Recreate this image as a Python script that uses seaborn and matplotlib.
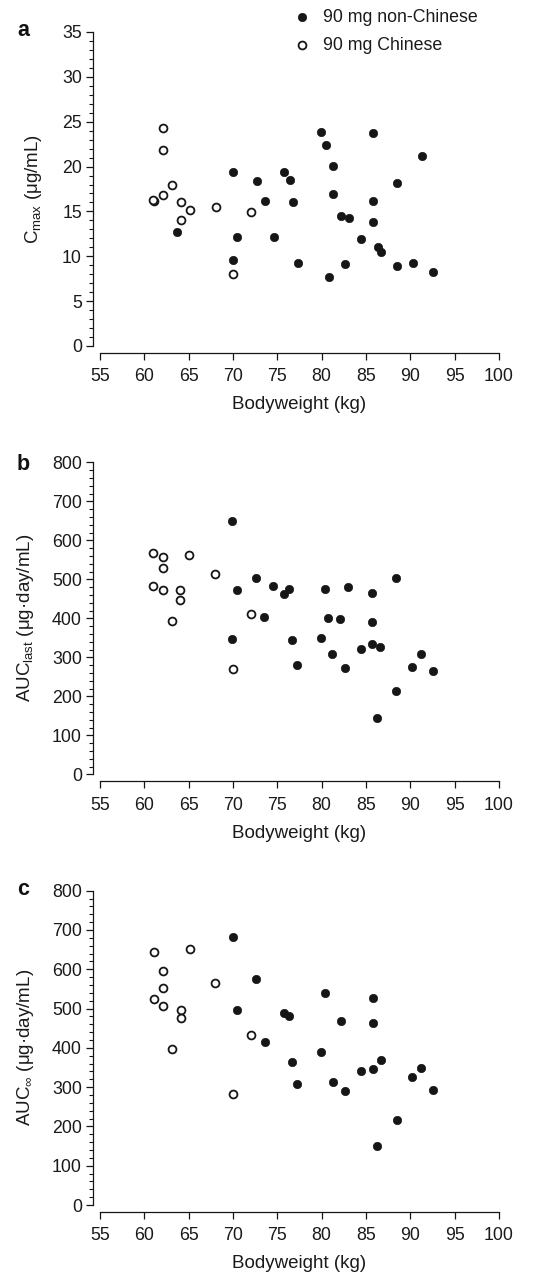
import matplotlib
matplotlib.use("Agg")
import matplotlib.pyplot as plt
import seaborn as sns
import pandas as pd
from matplotlib.ticker import MultipleLocator

# ---------------- data ----------------
groups = ["90 mg non-Chinese", "90 mg Chinese"]

# Panel a: Cmax (µg/mL)
a_wt_nc = [79.9, 85.8, 80.5, 91.3, 81.3, 70.0, 75.8, 76.4, 72.7, 88.5,
           73.6, 76.8, 81.3, 85.8, 82.2, 83.1, 85.8, 63.7, 70.5, 74.6,
           84.4, 86.3, 86.7, 70.0, 77.3, 82.6, 88.5, 90.3, 80.8, 92.6]
a_val_nc = [23.8, 23.7, 22.4, 21.2, 20.1, 19.4, 19.4, 18.5, 18.4, 18.2,
            16.2, 16.1, 16.9, 16.2, 14.5, 14.3, 13.8, 12.7, 12.1, 12.1,
            11.9, 11.0, 10.5, 9.6, 9.2, 9.1, 8.9, 9.2, 7.7, 8.2]
a_wt_c = [62.1, 62.1, 63.1, 62.1, 61.1, 61.0, 64.1, 65.1, 64.1, 68.1, 72.0, 70.0]
a_val_c = [24.3, 21.8, 17.9, 16.8, 16.2, 16.3, 16.1, 15.2, 14.1, 15.5, 14.9, 8.0]

# Panel b: AUClast (µg·day/mL)
b_wt_nc = [69.9, 72.6, 74.5, 75.8, 76.3, 70.4, 80.4, 83.0, 85.7, 88.4,
           73.5, 80.7, 82.1, 85.7, 69.9, 76.7, 79.9, 85.7, 86.6, 84.4,
           81.2, 91.2, 77.2, 82.6, 90.2, 92.5, 88.4, 86.2]
b_val_nc = [650, 503, 482, 462, 476, 472, 476, 480, 466, 503,
            404, 401, 399, 391, 347, 345, 350, 335, 326, 322,
            309, 308, 281, 273, 274, 264, 214, 144]
b_wt_c = [61.0, 62.1, 62.1, 65.0, 68.0, 61.0, 62.1, 64.0, 64.0, 63.1, 72.0, 70.0]
b_val_c = [567, 557, 530, 563, 513, 484, 472, 472, 446, 392, 411, 269]

# Panel c: AUC∞ (µg·day/mL)
c_wt_nc = [70.0, 72.6, 80.4, 85.8, 70.5, 75.8, 76.3, 82.2, 85.8, 73.6,
           79.9, 86.7, 76.7, 91.2, 85.8, 84.4, 90.2, 77.2, 81.3, 82.6,
           92.6, 88.5, 86.2]
c_val_nc = [681, 575, 539, 526, 496, 489, 482, 468, 464, 414,
            389, 369, 365, 348, 346, 342, 326, 309, 314, 291,
            292, 216, 149]
c_wt_c = [61.1, 65.1, 62.1, 62.1, 68.0, 61.1, 62.1, 64.1, 64.1, 63.1, 72.0, 70.0]
c_val_c = [643, 652, 595, 552, 564, 525, 507, 497, 475, 396, 433, 283]

x_ticks = list(range(55, 101, 5))
ylabels = [r"C$_{\mathrm{max}}$ (μg/mL)",
           r"AUC$_{\mathrm{last}}$ (μg·day/mL)",
           r"AUC$_{\mathrm{∞}}$ (μg·day/mL)"]
panel_letters = ["a", "b", "c"]

# ---------------- styling ----------------
sns.set_theme(style="ticks")
plt.rcParams["font.family"] = ["Liberation Sans", "DejaVu Sans"]
plt.rcParams["mathtext.fontset"] = "custom"
plt.rcParams["mathtext.rm"] = "Liberation Sans"
plt.rcParams["mathtext.it"] = "Liberation Sans:italic"
plt.rcParams["mathtext.bf"] = "Liberation Sans:bold"

INK = "#161616"
W, H = 549, 1283
fig = plt.figure(figsize=(W / 100, H / 100), dpi=100)

def frac_box(left, right, top, bottom):
    return [left / W, 1 - bottom / H, (right - left) / W, (bottom - top) / H]

axes = [fig.add_axes(frac_box(100, 499, 32, 346)),
        fig.add_axes(frac_box(100, 499, 462.3, 774.3)),
        fig.add_axes(frac_box(100, 499, 890.7, 1205))]

datasets = [
    (a_wt_nc, a_val_nc, a_wt_c, a_val_c, 35, 5, 1),
    (b_wt_nc, b_val_nc, b_wt_c, b_val_c, 800, 100, 20),
    (c_wt_nc, c_val_nc, c_wt_c, c_val_c, 800, 100, 20),
]
label_x = [-0.14, -0.16, -0.16]
letter_base = [36, 470, 895]

for i, (ax, (wn, vn, wc, vc, ymax, ymaj, ymin)) in enumerate(zip(axes, datasets)):
    df_nc = pd.DataFrame({"wt": wn, "val": vn, "group": groups[0]})
    df_c = pd.DataFrame({"wt": wc, "val": vc, "group": groups[1]})
    sns.scatterplot(data=df_nc, x="wt", y="val", ax=ax, s=36, color=INK,
                    edgecolor=INK, linewidth=0.5, label=groups[0], zorder=3)
    sns.scatterplot(data=df_c, x="wt", y="val", ax=ax, s=32, color="white",
                    edgecolor=INK, linewidth=1.3, label=groups[1], zorder=3)
    ax.set_xlim(55, 100)
    ax.set_ylim(0, ymax)
    ax.set_xticks(x_ticks)
    ax.yaxis.set_major_locator(MultipleLocator(ymaj))
    ax.yaxis.set_minor_locator(MultipleLocator(ymin))
    ax.tick_params(axis="both", which="major", direction="out", length=5,
                   width=0.9, color=INK, labelsize=12.8, labelcolor="#1a1a1a", pad=3)
    ax.tick_params(axis="y", which="minor", direction="out", length=3,
                   width=0.8, color=INK)
    ax.tick_params(axis="x", pad=6)
    ax.set_xlabel("Bodyweight (kg)", fontsize=13.5, color="#1a1a1a", labelpad=8)
    ax.set_ylabel(ylabels[i], fontsize=13.5, color="#1a1a1a")
    ax.yaxis.set_label_coords(label_x[i], 0.5)
    sns.despine(ax=ax, offset=5, trim=True)
    for sp in ("left", "bottom"):
        ax.spines[sp].set_linewidth(0.9)
        ax.spines[sp].set_color(INK)
    ax.set_facecolor("white")
    if i == 0:
        ax.legend(loc="upper left", bbox_to_anchor=(293 / W, 1 - 9 / H),
                  bbox_transform=fig.transFigure, frameon=False,
                  fontsize=12.8, handlelength=1.0, handletextpad=0.7,
                  labelspacing=0.62, borderpad=0, borderaxespad=0,
                  labelcolor="#1a1a1a")
    else:
        leg = ax.get_legend()
        if leg is not None:
            leg.remove()
    fig.text(17 / W, 1 - letter_base[i] / H, panel_letters[i], fontsize=15.5,
             fontweight="bold", va="baseline", ha="left", color="#111111")

fig.savefig("out.png", dpi=100, facecolor="white")
